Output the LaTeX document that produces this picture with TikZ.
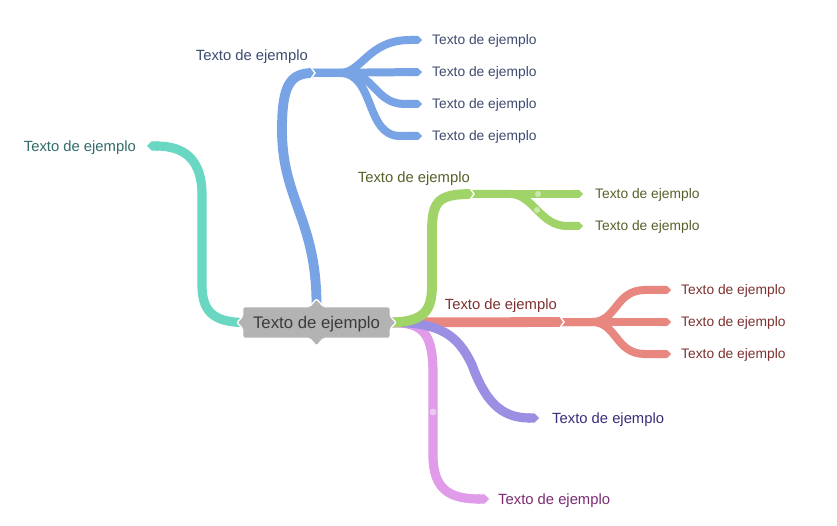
\documentclass[tikz,border=0pt]{standalone}
\usepackage{fontspec}
\setmainfont{Liberation Sans}
\usetikzlibrary{arrows.meta,calc}
\pgfdeclarelayer{back}\pgfdeclarelayer{bg}\pgfdeclarelayer{mid}\pgfsetlayers{back,bg,mid,main}
\definecolor{cblue}{HTML}{78A4E6}
\definecolor{cteal}{HTML}{6AD7C3}
\definecolor{cgreen}{HTML}{A0D468}
\definecolor{cred}{HTML}{E8877F}
\definecolor{cpurple}{HTML}{9A8FE2}
\definecolor{cpink}{HTML}{E09BE9}
\definecolor{cgray}{HTML}{B3B3B3}
\definecolor{tblue}{HTML}{3D4B6E}
\definecolor{tteal}{HTML}{2F6C6A}
\definecolor{tgreen}{HTML}{55622A}
\definecolor{tred}{HTML}{7D3030}
\definecolor{tpurple}{HTML}{3B2C7C}
\definecolor{tpink}{HTML}{7A2C70}
\definecolor{tcenter}{HTML}{3C3C3C}
\begin{document}
\begin{tikzpicture}[x=1pt,y=-1pt,
  lblA/.style={font=\fontsize{14.8}{17}\selectfont, inner sep=0pt, text height=10.6pt, text depth=0pt},
  lblB/.style={font=\fontsize{13.8}{16}\selectfont, inner sep=0pt, text height=9.9pt, text depth=0pt},
  trunk/.style={line width=9.8pt, line cap=butt},
  tipped/.style={line width=9.2pt, line cap=butt, -{Triangle Cap[]}},
  sub/.style={line width=8pt, line cap=butt, -{Triangle Cap[]}},
  chev/.style={draw=white, line width=1.4pt},
  dot/.style={fill=white, fill opacity=0.45}]
\begin{pgfonlayer}{back}
\fill[white] (0,0) rectangle (837,526);
\end{pgfonlayer}
\useasboundingbox (0,0) rectangle (837,526);

% central topic
\node[font=\fontsize{16.8}{19}\selectfont, text=tcenter, minimum width=147pt,
      minimum height=31pt, inner sep=0pt, text height=12pt, text depth=0pt] (c) at (316.5,322.5) {Texto de ejemplo};

% junctions
\coordinate (bj) at (313,73);
\coordinate (gj) at (472,194);
\coordinate (rj) at (562,322);

% labels
\node[lblA, text=tblue, anchor=east] (b) at (308,55) {Texto de ejemplo};
\node[lblB, text=tblue, anchor=west] (b1) at (432,40) {Texto de ejemplo};
\node[lblB, text=tblue, anchor=west] (b2) at (432,72) {Texto de ejemplo};
\node[lblB, text=tblue, anchor=west] (b3) at (432,104) {Texto de ejemplo};
\node[lblB, text=tblue, anchor=west] (b4) at (432,136) {Texto de ejemplo};
\node[lblA, text=tteal, anchor=east] (t) at (136,146) {Texto de ejemplo};
\node[lblA, text=tgreen, anchor=east] (g) at (470,177) {Texto de ejemplo};
\node[lblB, text=tgreen, anchor=west] (g1) at (595,194) {Texto de ejemplo};
\node[lblB, text=tgreen, anchor=west] (g2) at (595,226) {Texto de ejemplo};
\node[lblA, text=tred, anchor=east] (r) at (557,304) {Texto de ejemplo};
\node[lblB, text=tred, anchor=west] (r1) at (681,290) {Texto de ejemplo};
\node[lblB, text=tred, anchor=west] (r2) at (681,322) {Texto de ejemplo};
\node[lblB, text=tred, anchor=west] (r3) at (681,354) {Texto de ejemplo};
\node[lblA, text=tpurple, anchor=west] (p) at (552,418) {Texto de ejemplo};
\node[lblA, text=tpink, anchor=west] (k) at (498,499) {Texto de ejemplo};

\begin{pgfonlayer}{bg}
  % red
  \draw[trunk, cred] (c.east) -- (rj);
  \draw[sub, cred] (rj) -- (592,322) .. controls (617,322) and (615,290) .. (645,290) -- ($(r1.west)+(-10,0)$);
  \draw[sub, cred] (rj) -- ($(r2.west)+(-10,0)$);
  \draw[sub, cred] (rj) -- (592,322) .. controls (617,322) and (615,354) .. (645,354) -- ($(r3.west)+(-10,0)$);
  % pink
  \draw[tipped, cpink] (c.east) .. controls (425,322) and (433,335) .. (433,375) -- (433,455)
        .. controls (433,490) and (450,499) .. ($(k.west)+(-9,0)$);
  % purple
  \draw[tipped, cpurple] (c.east) .. controls (440,322) and (458,335) .. (472,365)
        .. controls (485,400) and (500,418) .. ($(p.west)+(-13,0)$);
  % green
  \draw[trunk, cgreen] (c.east) .. controls (425,322) and (432,310) .. (432,285) -- (432,230)
        .. controls (432,200) and (440,194) .. (gj);
  \draw[sub, cgreen] (gj) -- ($(g1.west)+(-12,0)$);
  \draw[sub, cgreen] (gj) -- (510,194) .. controls (533,194) and (540,226) .. (567,226) -- ($(g2.west)+(-12,0)$);
  % teal
  \draw[tipped, cteal] (c.west) .. controls (212,322) and (202,310) .. (202,285) -- (202,195)
        .. controls (202,160) and (185,146) .. ($(t.east)+(11,0)$);
  % blue
  \draw[trunk, cblue] (c.north) .. controls (317,220) and (282,200) .. (282,130)
        .. controls (282,85) and (290,73) .. (bj);
  \draw[sub, cblue] (bj) -- (340,73) .. controls (362,73) and (368,40) .. (410,40) -- ($(b1.west)+(-10,0)$);
  \draw[sub, cblue] (bj) -- ($(b2.west)+(-10,0)$);
  \draw[sub, cblue] (bj) -- (345,73) .. controls (375,73) and (375,104) .. (405,104) -- ($(b3.west)+(-10,0)$);
  \draw[sub, cblue] (bj) -- (340,73) .. controls (375,73) and (365,136) .. (400,136) -- ($(b4.west)+(-10,0)$);
\end{pgfonlayer}

\begin{pgfonlayer}{mid}
  % junction chevrons
  \draw[chev] ($(bj)+(-2,-5.5)$) -- ($(bj)+(2,0)$) -- ($(bj)+(-2,5.5)$);
  \draw[chev] ($(gj)+(-2,-5.5)$) -- ($(gj)+(2,0)$) -- ($(gj)+(-2,5.5)$);
  \draw[chev] ($(rj)+(-2,-5.5)$) -- ($(rj)+(2,0)$) -- ($(rj)+(-2,5.5)$);
  % small dots
  \fill[dot] (538,194) circle (3pt);
  \fill[dot] (537,210) circle (3pt);
  \fill[dot] (433,412) circle (3.5pt);
  % central box shape
  \filldraw[fill=cgray, draw=white, line width=1.3pt, rounded corners=2pt]
    (c.north west) -- ($(c.north)+(-7,0)$) -- ($(c.north)+(0,-8)$) -- ($(c.north)+(7,0)$)
    -- (c.north east) -- ($(c.east)+(0,-6)$) -- ($(c.east)+(6,0)$) -- ($(c.east)+(0,6)$)
    -- (c.south east) -- ($(c.south)+(7,0)$) -- ($(c.south)+(0,8)$) -- ($(c.south)+(-7,0)$)
    -- (c.south west) -- ($(c.west)+(0,6)$) -- ($(c.west)+(-6,0)$) -- ($(c.west)+(0,-6)$) -- cycle;
\end{pgfonlayer}
\end{tikzpicture}
\end{document}
